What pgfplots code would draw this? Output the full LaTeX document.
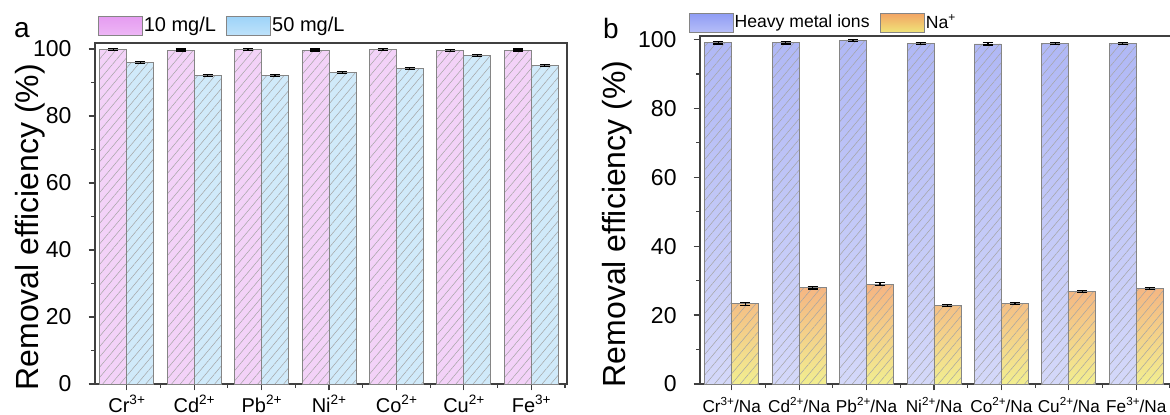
\documentclass[border=0pt]{standalone}
\usepackage{pgfplots}
\pgfplotsset{compat=1.18}
\usepackage{fontspec}
\setmainfont{Liberation Sans}
\usetikzlibrary{patterns.meta}
\newcommand{\su}[1]{\raisebox{0.42em}{\scalebox{0.68}{#1}}}
\definecolor{axisgray}{HTML}{404040}
\definecolor{bargray}{HTML}{858585}
\definecolor{hatch}{HTML}{A4A4A4}
\definecolor{pinkA}{HTML}{F3D2F8}
\definecolor{blueA}{HTML}{D0EAFA}
\definecolor{heavyT}{HTML}{B0B8F6}
\definecolor{heavyB}{HTML}{D4D8F9}
\definecolor{naT}{HTML}{F5B482}
\definecolor{naB}{HTML}{F2EE90}
\definecolor{lgPinkT}{HTML}{E59CF1}
\definecolor{lgPinkB}{HTML}{EDB6F5}
\definecolor{lgBlueT}{HTML}{9DD3F8}
\definecolor{lgBlueB}{HTML}{BEE2FA}
\definecolor{lgHeavyT}{HTML}{8F9CF4}
\definecolor{lgHeavyB}{HTML}{B6BEF8}
\definecolor{lgNaT}{HTML}{F2A464}
\definecolor{lgNaB}{HTML}{F0E478}
\pgfplotsset{
  common/.style={
    scale only axis, ymin=0, xmin=-0.47, xmax=6.53,
    xtick={0,...,6}, minor xtick={-0.5,0.5,...,6.5},
    ytick={0,20,...,100}, minor ytick={10,30,...,90},
    tick align=outside, tick pos=left,
    major tick length=3.2pt, minor tick length=1.8pt,
    axis line style={draw=axisgray, line width=0.7pt},
    every tick/.style={draw=axisgray, line width=0.6pt},
    yticklabel style={font=\fontsize{11.5}{13}\selectfont, text=black, xshift=-5pt},
    xticklabel style={font=\fontsize{10}{12}\selectfont, text=black, anchor=base, yshift=-11pt},
    /pgf/number format/assume math mode=true,
    ylabel={Removal efficiency (\%)},
    ylabel style={font=\fontsize{16}{19}\selectfont, anchor=center},
    ybar, bar width=0.4,
    legend image code/.code={
      \path[##1] (0pt,-4.7pt) rectangle (22pt,4.7pt);
      \path[pattern={Lines[angle=50,distance=3.3pt,line width=0.25pt]}, pattern color=hatch] (0pt,-4.7pt) rectangle (22pt,4.7pt);
      \draw[bargray, line width=0.4pt] (0pt,-4.7pt) rectangle (22pt,4.7pt);},
    legend cell align=left,
    legend style={draw=none, fill=none, legend columns=2,
      inner sep=0pt, nodes={inner sep=0.6pt},
      /tikz/every even column/.append style={column sep=4.5pt}},
  },
  hatchbar/.style={draw=bargray, line width=0.4pt, fill=none,
    pattern={Lines[angle=50,distance=3.3pt,line width=0.25pt]}, pattern color=hatch, forget plot},
  ebar/.style={forget plot, draw=none, fill=none,
    error bars/.cd, y dir=both, y explicit,
    error bar style={draw=black, line width=0.6pt},
    error mark options={draw=black, rotate=90, mark size=2.5pt, line width=0.6pt},
    /pgfplots/.cd},
}
\begin{document}
\begin{tikzpicture}
\path[use as bounding box] (0pt,0pt) rectangle (585pt,207pt);
\begin{axis}[common, at={(47.5pt,15pt)}, anchor=south west,
  width=236pt, height=170.5pt, ymax=101.8,
  xticklabels={Cr\su{3+},Cd\su{2+},Pb\su{2+},Ni\su{2+},Co\su{2+},Cu\su{2+},Fe\su{3+}},
  ylabel style={at={(axis description cs:-0.138,0.46)}},
  legend style={at={(axis description cs:0.005,1.0)}, anchor=south west, yshift=3.5pt,
    font=\fontsize{10}{12}\selectfont}]
\addlegendimage{top color=lgPinkT, bottom color=lgPinkB}
\addlegendentry{10 mg/L}
\addlegendimage{top color=lgBlueT, bottom color=lgBlueB}
\addlegendentry{50 mg/L}
% 10 mg/L
\addplot[draw=none, fill=pinkA, bar shift=-0.2, forget plot] coordinates {(0,99.8) (1,99.7) (2,99.9) (3,99.7) (4,99.9) (5,99.5) (6,99.7)};
\addplot[hatchbar, bar shift=-0.2] coordinates {(0,99.8) (1,99.7) (2,99.9) (3,99.7) (4,99.9) (5,99.5) (6,99.7)};
% 50 mg/L
\addplot[draw=none, fill=blueA, bar shift=0.2, forget plot] coordinates {(0,96.0) (1,92.0) (2,92.0) (3,93.0) (4,94.1) (5,98.1) (6,95.0)};
\addplot[hatchbar, bar shift=0.2] coordinates {(0,96.0) (1,92.0) (2,92.0) (3,93.0) (4,94.1) (5,98.1) (6,95.0)};
\addplot[bar shift=-0.2, ebar] coordinates {(0,99.8) +- (0,0.3) (1,99.7) +- (0,0.3) (2,99.9) +- (0,0.3) (3,99.7) +- (0,0.3) (4,99.9) +- (0,0.3) (5,99.5) +- (0,0.3) (6,99.7) +- (0,0.3)};
\addplot[bar shift=0.2, ebar] coordinates {(0,96.0) +- (0,0.3) (1,92.0) +- (0,0.3) (2,92.0) +- (0,0.3) (3,93.0) +- (0,0.3) (4,94.1) +- (0,0.3) (5,98.1) +- (0,0.3) (6,95.0) +- (0,0.3)};
\end{axis}
\begin{axis}[common, at={(350pt,15pt)}, anchor=south west,
  width=236pt, height=174pt, ymax=101,
  xticklabels={Cr\su{3+}/Na,Cd\su{2+}/Na,Pb\su{2+}/Na,Ni\su{2+}/Na,Co\su{2+}/Na,Cu\su{2+}/Na,Fe\su{3+}/Na},
  xticklabel style={font=\fontsize{8.6}{10}\selectfont},
  ylabel style={at={(axis description cs:-0.176,0.46)}},
  legend style={at={(axis description cs:-0.025,1.0)}, anchor=south west, yshift=1.5pt,
    font=\fontsize{8.8}{10.5}\selectfont}]
\addlegendimage{top color=lgHeavyT, bottom color=lgHeavyB}
\addlegendentry{Heavy metal ions}
\addlegendimage{top color=lgNaT, bottom color=lgNaB}
\addlegendentry{Na\su{+}}
% heavy metal ions
\addplot[draw=none, top color=heavyT, bottom color=heavyB, bar shift=-0.2, forget plot] coordinates {(0,99.0) (1,99.0) (2,99.7) (3,98.8) (4,98.7) (5,98.8) (6,98.9)};
\addplot[hatchbar, bar shift=-0.2] coordinates {(0,99.0) (1,99.0) (2,99.7) (3,98.8) (4,98.7) (5,98.8) (6,98.9)};
% Na+
\addplot[draw=none, top color=naT, bottom color=naB, bar shift=0.2, forget plot] coordinates {(0,23.3) (1,28.0) (2,29.0) (3,22.8) (4,23.3) (5,26.8) (6,27.8)};
\addplot[hatchbar, bar shift=0.2] coordinates {(0,23.3) (1,28.0) (2,29.0) (3,22.8) (4,23.3) (5,26.8) (6,27.8)};
\addplot[bar shift=-0.2, ebar] coordinates {(0,99.0) +- (0,0.3) (1,99.0) +- (0,0.3) (2,99.7) +- (0,0.3) (3,98.8) +- (0,0.3) (4,98.7) +- (0,0.3) (5,98.8) +- (0,0.3) (6,98.9) +- (0,0.3)};
\addplot[bar shift=0.2, ebar] coordinates {(0,23.3) +- (0,0.4) (1,28.0) +- (0,0.4) (2,29.0) +- (0,0.4) (3,22.8) +- (0,0.3) (4,23.3) +- (0,0.3) (5,26.8) +- (0,0.3) (6,27.8) +- (0,0.3)};
\end{axis}
\node[font=\fontsize{14}{16}\selectfont, anchor=center] at (11pt,192pt) {a};
\node[font=\fontsize{14}{16}\selectfont, anchor=center] at (305.5pt,193pt) {b};
\end{tikzpicture}
\end{document}
